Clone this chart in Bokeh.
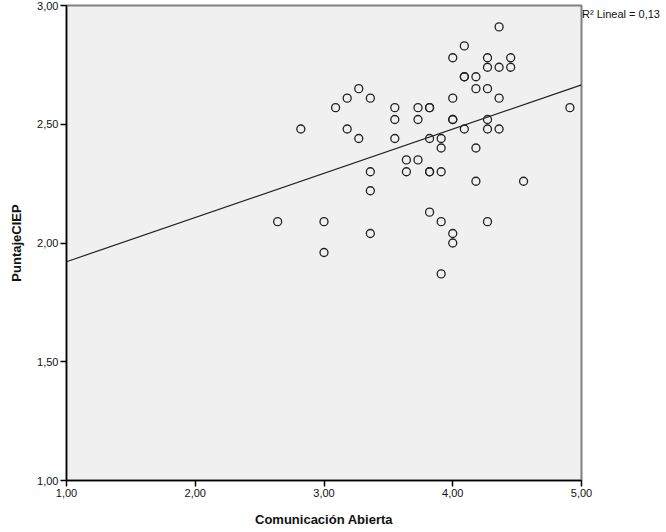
import numpy as np
from bokeh.plotting import figure
from bokeh.models import (Range1d, FixedTicker, CustomJSTickFormatter, ColumnDataSource,
                          Legend, LegendItem)
from bokeh.embed import file_html
from bokeh.resources import INLINE

# Comunicación Abierta (x) and PuntajeCIEP (y)
comunicacion = [2.64, 2.82, 3.00, 3.00, 3.09, 3.18, 3.18, 3.27, 3.27,
                3.36, 3.36, 3.36, 3.36, 3.55, 3.55, 3.55, 3.64, 3.64,
                3.73, 3.73, 3.73, 3.82, 3.82, 3.82, 3.82, 3.82, 3.82,
                3.91, 3.91, 3.91, 3.91, 3.91,
                4.00, 4.00, 4.00, 4.00, 4.00, 4.00,
                4.09, 4.09, 4.09, 4.09,
                4.18, 4.18, 4.18, 4.18,
                4.27, 4.27, 4.27, 4.27, 4.27, 4.27,
                4.36, 4.36, 4.36, 4.36, 4.45, 4.45, 4.55, 4.91]
puntaje = [2.09, 2.48, 2.09, 1.96, 2.57, 2.61, 2.48, 2.65, 2.44,
           2.61, 2.30, 2.22, 2.04, 2.57, 2.52, 2.44, 2.35, 2.30,
           2.57, 2.52, 2.35, 2.57, 2.57, 2.44, 2.30, 2.30, 2.13,
           2.44, 2.40, 2.30, 2.09, 1.87,
           2.78, 2.61, 2.52, 2.52, 2.04, 2.00,
           2.83, 2.70, 2.70, 2.48,
           2.70, 2.65, 2.40, 2.26,
           2.78, 2.74, 2.65, 2.52, 2.48, 2.09,
           2.91, 2.74, 2.61, 2.48, 2.78, 2.74, 2.26, 2.57]

x_ticks = [1.0, 2.0, 3.0, 4.0, 5.0]
y_ticks = [1.0, 1.5, 2.0, 2.5, 3.0]
r2_text = "R² Lineal = 0,13"

FONT = "Liberation Sans"

p = figure(frame_width=515, frame_height=475, output_backend="svg", toolbar_location=None,
           x_range=Range1d(1, 5), y_range=Range1d(1, 3))
p.min_border_left = 66
p.min_border_right = 85
p.min_border_top = 5
p.min_border_bottom = 52
p.background_fill_color = "#f0f0f0"
p.border_fill_color = "white"
p.outline_line_color = "#808080"
p.outline_line_width = 2
p.xgrid.visible = False
p.ygrid.visible = False

fmt = CustomJSTickFormatter(code="return tick.toFixed(2).replace('.', ',');")
for ax, ticks in ((p.xaxis, x_ticks), (p.yaxis, y_ticks)):
    ax.ticker = FixedTicker(ticks=ticks)
    ax.formatter = fmt
    ax.minor_tick_line_color = None
    ax.major_tick_in = 0
    ax.major_tick_out = 6
    ax.major_tick_line_color = "black"
    ax.major_tick_line_width = 1.5
    ax.axis_line_color = "black"
    ax.axis_line_width = 1.5
    ax.major_label_text_font = FONT
    ax.major_label_text_font_size = "11px"
    ax.major_label_text_color = "#111111"
    ax.major_label_standoff = 2
    ax.axis_label_text_font = FONT
    ax.axis_label_text_font_style = "bold"
    ax.axis_label_text_font_size = "13px"
    ax.axis_label_text_color = "#111111"

p.xaxis.axis_label = "Comunicación Abierta"
p.yaxis.axis_label = "PuntajeCIEP"
p.xaxis.axis_label_standoff = 12
p.yaxis.axis_label_standoff = 10

# regression line
slope, intercept = np.polyfit(comunicacion, puntaje, 1)
lx = [1.0, 5.0]
ly = [intercept + slope * v for v in lx]
reg = p.line(lx, ly, line_color="#222222", line_width=1.2)

src = ColumnDataSource(dict(x=comunicacion, y=puntaje))
p.scatter("x", "y", source=src, size=8, marker="circle", fill_color=None,
          line_color="#222222", line_width=1.3)

# R² text placed in the right side panel via a glyph-less legend
legend = Legend(items=[LegendItem(label=r2_text, renderers=[reg])],
                location="top_left", glyph_width=0, glyph_height=18,
                label_height=18, label_standoff=1, padding=0, margin=0,
                spacing=0, border_line_color=None, background_fill_alpha=0,
                label_text_font=FONT, label_text_font_size="11px",
                label_text_color="#111111")
p.add_layout(legend, "right")

open("out.html", "w").write(file_html(p, INLINE))
